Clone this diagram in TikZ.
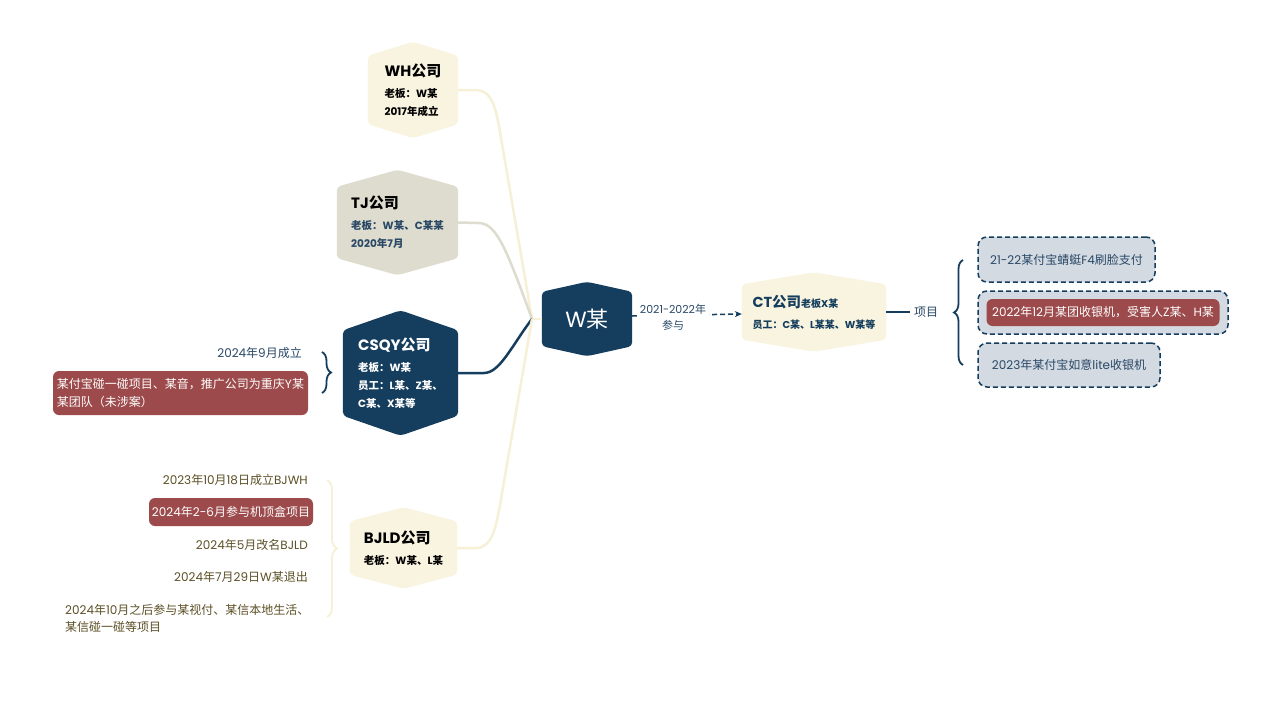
\documentclass[tikz,border=0pt]{standalone}
\usepackage{fontspec}
\setmainfont{Poppins}
\newfontfamily\cjkf{Noto Sans CJK SC}
\usetikzlibrary{backgrounds,decorations.pathreplacing,arrows.meta,calc}
\XeTeXinterchartokenstate=1
\newXeTeXintercharclass\cjkcls
\makeatletter
\def\setcjkrange#1#2{\count@=#1\relax\loop\XeTeXcharclass\count@=\cjkcls\relax\ifnum\count@<#2\advance\count@ by 1\repeat}
\makeatother
\setcjkrange{"3000}{"303F}
\setcjkrange{"4E00}{"9FFF}
\setcjkrange{"FF00}{"FFEF}
\XeTeXinterchartoks 0 \cjkcls = {\begingroup\cjkf}
\XeTeXinterchartoks 4095 \cjkcls = {\begingroup\cjkf}
\XeTeXinterchartoks \cjkcls 0 = {\endgroup}
\XeTeXinterchartoks \cjkcls 4095 = {\endgroup}
\definecolor{navy}{HTML}{153D5D}
\definecolor{cream}{HTML}{F9F4DF}
\definecolor{creamline}{HTML}{F6F0D6}
\definecolor{tjgrey}{HTML}{DEDCCE}
\definecolor{cred}{HTML}{9C4A4B}
\definecolor{itemfill}{HTML}{D3DAE2}
\definecolor{olive}{HTML}{5C5026}
\definecolor{navytext}{HTML}{2A4866}
\newcommand\hexbg[3]{\fill[#3, rounded corners=4pt] (#1.north west) -- ([yshift=#2]#1.north) -- (#1.north east) -- (#1.south east) -- ([yshift=-#2]#1.south) -- (#1.south west) -- cycle;}
\begin{document}
\begin{tikzpicture}[x=1pt,y=-1pt,
  hexnode/.style={inner sep=0pt, align=left, font=\fontsize{10.5}{18}\selectfont\bfseries},
  conn/.style={line width=2.5pt},
  lefttext/.style={font=\fontsize{12}{17}\selectfont, inner sep=0pt},
  redtag/.style={fill=cred, text=white, rounded corners=6pt, font=\fontsize{12}{18}\selectfont, inner sep=0pt, align=left},
  itembox/.style={fill=itemfill, draw=navy, line width=1.5pt, dash pattern=on 5pt off 3pt, rounded corners=9pt, text=navytext, font=\fontsize{12}{16}\selectfont, inner sep=0pt, align=left},
  bracestyle/.style={decorate, decoration={brace, amplitude=9pt}, line width=1.8pt},
]
\useasboundingbox (0,0) rectangle (1267,704);

% hexagon nodes
\node[hexnode, text=black, minimum width=90pt, minimum height=68pt] (wh) at (413,90)
  {{\fontsize{15}{18}\selectfont WH公司}\\[3pt]老板：W某\\2017年成立};
\node[hexnode, text=navytext, minimum width=121pt, minimum height=71pt] (tj) at (397.5,222.5)
  {{\fontsize{15}{18}\selectfont\color{black}TJ公司}\\[3pt]老板：W某、C某某\\2020年7月};
\node[hexnode, text=white, minimum width=115pt, minimum height=85pt] (csqy) at (400.5,373)
  {{\fontsize{15}{18}\selectfont CSQY公司}\\[3pt]老板：W某\\员工：L某、Z某、\\C某、X某等};
\node[hexnode, text=black, minimum width=107pt, minimum height=53pt] (bjld) at (403.5,548)
  {{\fontsize{15}{18}\selectfont BJLD公司}\\[3pt]老板：W某、L某};
\node[hexnode, text=white, font=\fontsize{22}{24}\selectfont, minimum width=90pt, minimum height=54pt] (w) at (587,319) {W某};
\node[hexnode, text=navy, minimum width=144pt, minimum height=55pt] (ct) at (814,312)
  {{\fontsize{14.5}{18}\selectfont CT公司}{\fontsize{10}{12}\selectfont 老板X某}\\[3pt]{\fontsize{10}{12}\selectfont 员工：C某、L某某、W某等}};

% left of CSQY
\node[lefttext, text=navytext, anchor=east] (csqya) at (302,353) {2024年9月成立};
\node[redtag, minimum width=255pt, minimum height=44pt] (csqyb) at (180.5,393)
  {某付宝碰一碰项目、某音，推广公司为重庆Y某\\某团队（未涉案）};

% left of BJLD
\node[lefttext, text=olive, anchor=east] (bja) at (308,480) {2023年10月18日成立BJWH};
\node[redtag, minimum width=164pt, minimum height=28pt] (bjb) at (231,512) {2024年2-6月参与机顶盒项目};
\node[lefttext, text=olive, anchor=east] (bjc) at (308,545) {2024年5月改名BJLD};
\node[lefttext, text=olive, anchor=east] (bjd) at (308,577) {2024年7月29日W某退出};
\node[lefttext, text=olive, anchor=west, align=left] (bje) at (65,618)
  {2024年10月之后参与某视付、某信本地生活、\\某信碰一碰等项目};

% right side
\node[lefttext, text=navytext, inner xsep=4pt] (xm) at (926,312) {项目};
\node[itembox, minimum width=177pt, minimum height=45pt] (it1) at (1066.5,259.5) {21-22某付宝蜻蜓F4刷脸支付};
\node[itembox, minimum width=250pt, minimum height=43pt] (it2) at (1103,312.5) {};
\node[redtag, minimum width=233pt, minimum height=27pt] (it2r) at (it2) {2022年12月某团收银机，受害人Z某、H某};
\node[itembox, minimum width=182pt, minimum height=44pt] (it3) at (1069,365) {2023年某付宝如意lite收银机};

% connectors
\coordinate (hub) at (532,319);
\draw[creamline, conn] (wh.east) -- (475,90) .. controls (493,90) and (496,110) .. (500,132) -- (hub);
\draw[tjgrey, conn] (tj.east) -- (478,223) .. controls (496,223) and (505,245) .. (hub);
\draw[navy, conn] (csqy.east) -- (484,373) .. controls (500,373) and (512,345) .. (hub);
\draw[creamline, conn] (bjld.east) -- (476,548) .. controls (492,548) and (496,527) .. (500,505) -- (hub);
\draw[creamline, conn] (hub) -- (w.west);

\draw[navy, line width=1.5pt, dash pattern=on 5pt off 3pt, -{Stealth[length=7pt,width=6pt]}]
  ([yshift=3pt]w.east) -- ([yshift=-2pt]ct.west);
\node[fill=white, text=navytext, align=center, font=\fontsize{11}{16}\selectfont, inner xsep=3pt, inner ysep=1pt] (lbl) at (673,317) {2021-2022年\\参与};
\draw[navy, line width=1.6pt] (ct.east) -- (xm.west);

% braces
\coordinate (bra) at (322,352); \coordinate (brb) at (322,393);
\draw[navy, bracestyle] (bra) -- (brb);
\coordinate (brc) at (327,480); \coordinate (brd) at (327,617);
\draw[creamline, bracestyle, decoration={brace, amplitude=10pt}] (brc) -- (brd);
\coordinate (bre) at (963,365); \coordinate (brf) at (963,260);
\draw[navy, bracestyle] (bre) -- (brf);

% backgrounds
\begin{scope}[on background layer]
  \fill[white] (0,0) rectangle (1267,704);
  \hexbg{wh}{14pt}{cream}
  \hexbg{tj}{17pt}{tjgrey}
  \hexbg{csqy}{20pt}{navy}
  \hexbg{bjld}{14pt}{cream}
  \hexbg{w}{10pt}{navy}
  \hexbg{ct}{12pt}{cream}
\end{scope}
\end{tikzpicture}
\end{document}
